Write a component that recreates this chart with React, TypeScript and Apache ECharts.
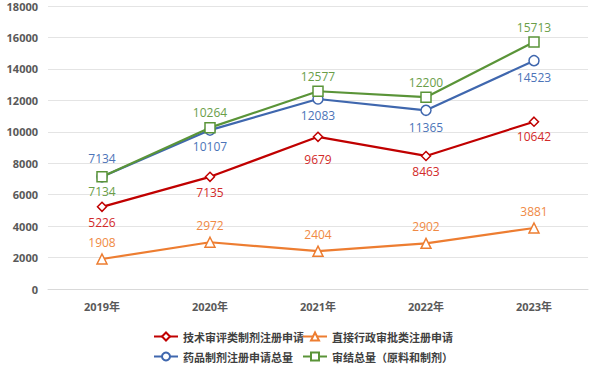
import React, { useEffect, useRef } from "react";
import * as echarts from "echarts";

const years = ["2019年", "2020年", "2021年", "2022年", "2023年"];
const techReview = [5226, 7135, 9679, 8463, 10642];
const directApproval = [1908, 2972, 2404, 2902, 3881];
const drugTotal = [7134, 10107, 12083, 11365, 14523];
const concludedTotal = [7134, 10264, 12577, 12200, 15713];
const blueLabelPos = ["top", "bottom", "bottom", "bottom", "bottom"];
const greenLabelPos = ["bottom", "top", "top", "top", "top"];
const redLabelDist = [4, 4, 11, 4, 4];

const names = [
  "技术审评类制剂注册申请",
  "直接行政审批类注册申请",
  "药品制剂注册申请总量",
  "审结总量（原料和制剂）",
];

const RED = "#C00000";
const ORANGE = "#ED7D31";
const BLUE = "#3F67AE";
const GREEN = "#5A9438";
const RED_LBL = "#D22A2A";
const ORANGE_LBL = "#F08A45";
const BLUE_LBL = "#4C74B8";
const GREEN_LBL = "#6A9E48";
const FONT = "'Open Sans', 'Noto Sans CJK SC', sans-serif";

export default function App() {
  const ref = useRef<HTMLDivElement>(null);
  useEffect(() => {
    const chart = echarts.init(ref.current!, null, { renderer: "svg" });
    const lbl = (color: string, pos: string, distance: number) => ({
      show: true,
      position: pos,
      distance,
      color,
      fontSize: 12,
      fontFamily: FONT,
    });
    const legendCommon = {
      itemWidth: 24,
      itemHeight: 10,
      textStyle: { fontSize: 11, fontWeight: "bold", color: "#404040", fontFamily: "'Noto Sans CJK SC', sans-serif" },
      itemGap: 2,
      padding: 0,
    };
    chart.setOption({
      animation: false,
      textStyle: { fontFamily: FONT },
      grid: { left: 48, right: 12, top: 6, bottom: 85 },
      legend: [
        { ...legendCommon, data: [names[0]], left: 153, top: 331 },
        { ...legendCommon, data: [names[1]], left: 302, top: 331 },
        { ...legendCommon, data: [names[2]], left: 153, top: 351 },
        { ...legendCommon, data: [names[3]], left: 302, top: 351 },
      ],
      xAxis: {
        type: "category",
        data: years,
        boundaryGap: true,
        axisLine: { show: true, lineStyle: { color: "#D9D9D9" } },
        axisTick: { show: false },
        axisLabel: { color: "#595959", fontSize: 11, fontWeight: "bold", margin: 12 },
      },
      yAxis: {
        type: "value",
        min: 0,
        max: 18000,
        interval: 2000,
        axisLine: { show: false },
        axisTick: { show: false },
        splitLine: { lineStyle: { color: "#E4E4E4" } },
        axisLabel: {
          color: "#595959",
          fontSize: 11,
          fontWeight: "bold",
          margin: 10,
          formatter: (v: number) => String(v),
        },
      },
      series: [
        {
          name: names[0],
          type: "line",
          data: techReview.map((v, i) => ({ value: v, label: { distance: redLabelDist[i] } })),
          symbol: "diamond",
          symbolSize: 9,
          itemStyle: { color: "#fff", borderColor: RED, borderWidth: 1.5 },
          lineStyle: { color: RED, width: 2.2 },
          label: lbl(RED_LBL, "bottom", 4),
          z: 3,
        },
        {
          name: names[1],
          type: "line",
          data: directApproval,
          symbol: "triangle",
          symbolSize: 10,
          itemStyle: { color: "#fff", borderColor: ORANGE, borderWidth: 1.5 },
          lineStyle: { color: ORANGE, width: 2.2 },
          label: lbl(ORANGE_LBL, "top", 5),
          z: 2,
        },
        {
          name: names[2],
          type: "line",
          data: drugTotal.map((v, i) => ({
            value: v,
            label: { position: blueLabelPos[i], distance: blueLabelPos[i] === "top" ? 7 : 5 },
          })),
          symbol: "circle",
          symbolSize: 10,
          itemStyle: { color: "#fff", borderColor: BLUE, borderWidth: 1.5 },
          lineStyle: { color: BLUE, width: 2.2 },
          label: lbl(BLUE_LBL, "bottom", 5),
          z: 4,
        },
        {
          name: names[3],
          type: "line",
          data: concludedTotal.map((v, i) => ({
            value: v,
            label: { position: greenLabelPos[i], distance: 3 },
          })),
          symbol: "rect",
          symbolSize: 10,
          itemStyle: { color: "#fff", borderColor: GREEN, borderWidth: 1.5 },
          lineStyle: { color: GREEN, width: 2.2 },
          label: lbl(GREEN_LBL, "top", 3),
          z: 5,
        },
      ],
    });
    return () => chart.dispose();
  }, []);
  return <div ref={ref} style={{ width: 600, height: 374, position: "absolute", left: 0, top: 0 }} />;
}
